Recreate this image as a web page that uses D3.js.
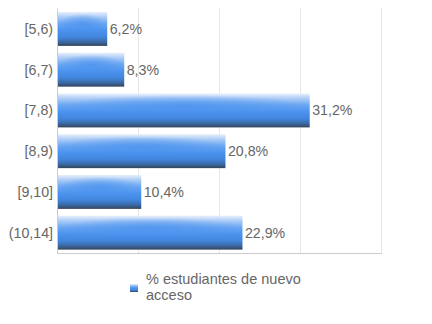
<!DOCTYPE html>
<html><head><meta charset="utf-8">
<script src="https://cdn.jsdelivr.net/npm/d3@7"></script>
<style>body{margin:0;background:#fff}svg{display:block}text{font-family:"Liberation Sans",Arial,sans-serif}</style>
</head><body>
<svg id="c" width="432" height="324"></svg>
<script>
const categories = ["[5,6)", "[6,7)", "[7,8)", "[8,9)", "[9,10]", "(10,14]"];
const values = [6.2, 8.3, 31.2, 20.8, 10.4, 22.9];
const valueLabels = ["6,2%", "8,3%", "31,2%", "20,8%", "10,4%", "22,9%"];
const xTicks = [0, 10, 20, 30, 40];
const seriesName = ["% estudiantes de nuevo", "acceso"];

const svg = d3.select("#c");
const pL = 57, pR = 381, pT = 8.6, pB = 253;
const x = d3.scaleLinear().domain([0, 40]).range([pL, pR]);
const y = d3.scaleBand().domain(categories).range([pT, pB]).paddingInner(0.167).paddingOuter(0.083);

const defs = svg.append("defs");
const lg = defs.append("linearGradient").attr("id", "g").attr("x1", 0).attr("y1", 0).attr("x2", 0).attr("y2", 1);
[[0, "#e8f0fc"], [0.15, "#acccf6"], [0.35, "#6aa6f2"], [0.55, "#4a92ee"], [0.74, "#4286de"], [0.88, "#3b6aa6"], [1, "#34445a"]]
  .forEach(([o, c]) => lg.append("stop").attr("offset", o).attr("stop-color", c));
const rg = defs.append("radialGradient").attr("id", "r").attr("cx", 0.5).attr("cy", 0.5).attr("r", 0.5);
rg.append("stop").attr("offset", 0).attr("stop-color", "#4a92ee").attr("stop-opacity", 0.75);
rg.append("stop").attr("offset", 0.6).attr("stop-color", "#4a92ee").attr("stop-opacity", 0.35);
rg.append("stop").attr("offset", 1).attr("stop-color", "#4a92ee").attr("stop-opacity", 0);

// gridlines
svg.append("g").selectAll("line").data(xTicks.slice(1)).join("line")
  .attr("x1", d => x(d) + 0.5).attr("x2", d => x(d) + 0.5)
  .attr("y1", pT).attr("y2", pB).attr("stroke", "#e6e6e6").attr("stroke-width", 1);

// axes lines
svg.append("line").attr("x1", pL + 0.5).attr("x2", pL + 0.5).attr("y1", pT).attr("y2", pB + 0.5).attr("stroke", "#cccccc");
svg.append("line").attr("x1", pL).attr("x2", pR + 1).attr("y1", pB + 0.5).attr("y2", pB + 0.5).attr("stroke", "#cccccc");

// bars
const bars = svg.append("g");
categories.forEach((c, i) => {
  const w = x(values[i]) - x(0);
  bars.append("rect").attr("x", x(0) + 1).attr("y", y(c)).attr("width", w - 1).attr("height", y.bandwidth()).attr("fill", "url(#g)");
  bars.append("rect").attr("x", x(0) + 1).attr("y", y(c) + y.bandwidth() * 0.05).attr("width", w - 1).attr("height", y.bandwidth() * 0.6).attr("fill", "url(#r)");
});

// value labels
svg.append("g").selectAll("text").data(categories).join("text")
  .attr("x", (d, i) => x(values[i]) + 2.5)
  .attr("y", d => y(d) + y.bandwidth() / 2 + 5)
  .attr("font-size", 14.2).attr("fill", "#666")
  .text((d, i) => valueLabels[i]);

// category labels
svg.append("g").selectAll("text").data(categories).join("text")
  .attr("x", 53).attr("y", d => y(d) + y.bandwidth() / 2 + 5)
  .attr("text-anchor", "end").attr("font-size", 14.2).attr("fill", "#666")
  .text(d => d);

// legend
svg.append("rect").attr("x", 130).attr("y", 284).attr("width", 8).attr("height", 8).attr("fill", "url(#g)");
svg.append("g").selectAll("text").data(seriesName).join("text")
  .attr("x", 146).attr("y", (d, i) => 284 + i * 16)
  .attr("font-size", 14.5).attr("fill", "#666").text(d => d);
</script>
</body></html>
